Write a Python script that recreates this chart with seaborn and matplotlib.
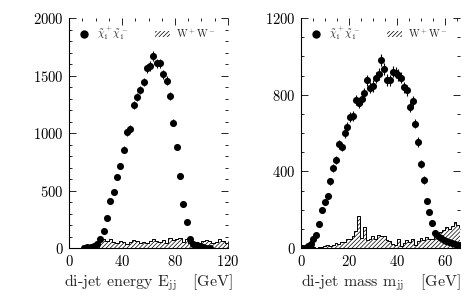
import numpy as np
import seaborn as sns
import matplotlib.pyplot as plt
from matplotlib.lines import Line2D
from matplotlib.patches import Patch
from matplotlib.ticker import MultipleLocator

# --- left panel: di-jet energy (2.5 GeV bins) ---
e_sig_x = [11.25, 13.75, 16.25, 18.75, 21.25, 23.75, 26.25, 28.75, 31.25, 33.75,
           36.25, 38.75, 41.25, 43.75, 46.25, 48.75, 51.25, 53.75, 56.25, 58.75,
           61.25, 63.75, 66.25, 68.75, 71.25, 73.75, 76.25, 78.75, 81.25, 83.75,
           86.25, 88.75, 91.25, 93.75, 96.25, 98.75, 101.25, 103.75, 106.25]
e_sig_y = [2, 5, 10, 18, 35, 76, 148, 261, 409, 484,
           615, 716, 855, 1006, 1035, 1243, 1310, 1374, 1443, 1562,
           1583, 1670, 1606, 1606, 1510, 1455, 1324, 1090, 878, 626,
           380, 223, 76, 38, 25, 16, 9, 4, 1]
e_sig_err = [1, 2, 3, 4, 6, 9, 12, 16, 20, 22,
             25, 27, 29, 32, 32, 35, 36, 37, 38, 40,
             40, 41, 40, 40, 39, 38, 36, 33, 30, 25,
             19, 15, 9, 6, 5, 4, 3, 2, 1]
e_bkg_x = [23.75, 26.25, 28.75, 31.25, 33.75, 36.25, 38.75, 41.25, 43.75, 46.25,
           48.75, 51.25, 53.75, 56.25, 58.75, 61.25, 63.75, 66.25, 68.75, 71.25,
           73.75, 76.25, 78.75, 81.25, 83.75, 86.25, 88.75, 91.25, 93.75, 96.25,
           98.75, 101.25, 103.75, 106.25, 108.75, 111.25, 113.75, 116.25, 118.75]
e_bkg_y = [75, 80, 65, 75, 55, 40, 60, 50, 35, 50,
           70, 65, 45, 55, 40, 60, 80, 65, 55, 70,
           40, 85, 70, 80, 85, 55, 75, 45, 40, 55,
           40, 60, 70, 65, 40, 55, 80, 60, 45]
e_edges = list(np.arange(22.5, 120.01, 2.5))

# --- right panel: di-jet mass (1.18 GeV bins) ---
m_width = 1.18
m_x = list(0.45 + m_width * np.arange(57))
m_sig_y = [0, 2, 8,
           19, 45, 66, 125, 198, 242, 271, 348, 416, 459,
           541, 527, 598, 633, 682, 689, 772, 755, 779, 807,
           875, 836, 845, 889, 908, 979, 934, 877, 875, 920,
           915, 903, 889, 838, 824, 734, 767, 649, 553, 436,
           355, 247, 190, 129, 77,
           62, 50, 42, 35, 29, 24, 20, 17, 14]
m_sig_err = [0, 1, 3,
             4, 7, 8, 11, 14, 16, 16, 19, 20, 21,
             23, 23, 24, 25, 26, 26, 28, 27, 28, 28,
             30, 29, 29, 30, 30, 31, 31, 30, 30, 30,
             30, 30, 30, 29, 29, 27, 28, 25, 24, 21,
             19, 16, 14, 11, 9,
             8, 7, 6, 6, 5, 5, 4, 4, 4]
m_bkg_y = [0, 0, 0, 0, 4, 0, 6, 3, 10, 14,
           8, 18, 25, 20, 32, 30, 45, 45, 62, 90,
           165, 50, 108, 40, 48, 65, 48, 70, 62, 62,
           40, 35, 22, 18, 48, 12, 25, 40, 30, 45,
           18, 35, 52, 40, 60, 45, 48, 62, 70, 85,
           95, 110, 100, 115, 135, 120, 110]
m_edges = list(-0.14 + m_width * np.arange(58))

sns.set_theme(style="ticks")
plt.rcParams["font.family"] = ["cmr10", "DejaVu Serif"]
plt.rcParams["mathtext.fontset"] = "cm"
plt.rcParams["axes.formatter.use_mathtext"] = True
plt.rcParams["hatch.linewidth"] = 0.5

fig = plt.figure(figsize=(4.74, 3.0), dpi=100)
ax1 = fig.add_axes([0.1456, 0.1733, 0.3354, 0.7667])
ax2 = fig.add_axes([0.635, 0.1733, 0.3354, 0.7667])


def panel(ax, bx, by, edges, sx, sy, serr):
    sns.histplot(x=bx, weights=by, bins=edges, element="step", fill=True,
                 facecolor="white", edgecolor="black", hatch="////////",
                 linewidth=0.7, alpha=1, ax=ax)
    ax.errorbar(sx, sy, yerr=serr, fmt="none", ecolor="black",
                elinewidth=0.8, capsize=0)
    sns.scatterplot(x=sx, y=sy, color="black", s=26, edgecolor="black",
                    linewidth=0, ax=ax, zorder=3)
    ax.set_ylabel("")
    for side in ["top", "right"]:
        ax.spines[side].set_visible(False)
    for side in ["left", "bottom"]:
        ax.spines[side].set_linewidth(0.8)
        ax.spines[side].set_color("black")
    ax.tick_params(which="both", direction="in", top=True, right=True,
                   labelsize=10.5, colors="black", width=0.6)
    ax.tick_params(which="major", length=5, pad=4)
    ax.tick_params(which="minor", length=2.5)
    handles = [Line2D([], [], marker="o", ls="none", color="black", ms=5),
               Patch(facecolor="white", edgecolor="black", hatch="////////", lw=0)]
    labels = [r"$\tilde{\chi}^+_1\tilde{\chi}^-_1$", r"$\mathrm{W^+W^-}$"]
    ax.legend(handles, labels, ncol=2, loc="upper left", frameon=False,
              fontsize=7.5, handlelength=1.4, handleheight=0.6, handletextpad=0.6,
              columnspacing=2.6, borderaxespad=0.3, bbox_to_anchor=(0.0, 1.0))


panel(ax1, e_bkg_x, e_bkg_y, e_edges, e_sig_x, e_sig_y, e_sig_err)
ax1.set_xlim(0, 120)
ax1.set_ylim(0, 2000)
ax1.xaxis.set_major_locator(MultipleLocator(40))
ax1.xaxis.set_minor_locator(MultipleLocator(10))
ax1.yaxis.set_major_locator(MultipleLocator(500))
ax1.yaxis.set_minor_locator(MultipleLocator(100))
ax1.set_xlabel(r"di-jet energy E$_{\rm jj}$   [GeV]", fontsize=11.5, labelpad=3)

panel(ax2, m_x, m_bkg_y, m_edges, m_x, m_sig_y, m_sig_err)
ax2.set_xlim(0, 66.25)
ax2.set_ylim(0, 1200)
ax2.xaxis.set_major_locator(MultipleLocator(20))
ax2.xaxis.set_minor_locator(MultipleLocator(5))
ax2.yaxis.set_major_locator(MultipleLocator(400))
ax2.yaxis.set_minor_locator(MultipleLocator(100))
ax2.set_xlabel(r"di-jet mass m$_{\rm jj}$   [GeV]", fontsize=11.5, labelpad=3)

fig.savefig("out.png", dpi=100)
